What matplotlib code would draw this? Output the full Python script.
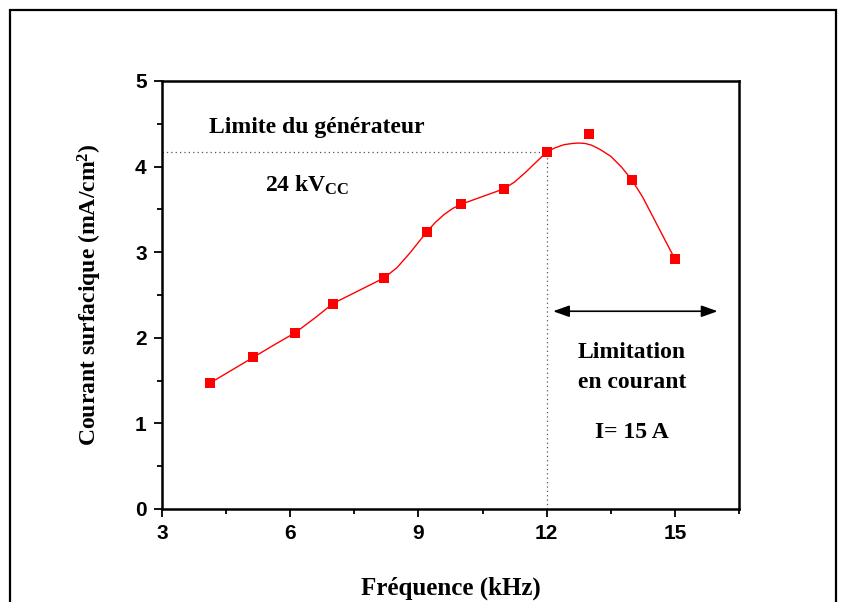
import matplotlib
matplotlib.use("Agg")
import matplotlib.pyplot as plt
from matplotlib.patches import Rectangle
from matplotlib.ticker import MultipleLocator

# Data
freq_khz = [4.12, 5.13, 6.12, 7.0, 8.2, 9.2, 10.0, 11.0, 12.0, 13.0, 14.0, 15.0]
current = [1.47, 1.77, 2.06, 2.40, 2.70, 3.24, 3.56, 3.74, 4.17, 4.38, 3.84, 2.92]

# Fitted curve
curve_x = [4.12, 5.13, 5.6, 6.12, 6.6, 7.0, 7.6, 8.2, 8.5, 8.8, 9.2, 9.4, 9.6, 9.8, 10.0,
           10.5, 11.0, 11.25, 11.5, 11.75, 12.0, 12.2, 12.4, 12.6, 12.75, 12.9, 13.05,
           13.25, 13.5, 13.75, 14.0, 14.25, 14.5, 14.75, 15.0]
curve_y = [1.47, 1.77, 1.91, 2.06, 2.24, 2.40, 2.55, 2.70, 2.82, 2.99, 3.24, 3.35, 3.44,
           3.51, 3.56, 3.65, 3.74, 3.82, 3.93, 4.05, 4.17, 4.22, 4.255, 4.27, 4.275, 4.27,
           4.25, 4.20, 4.12, 3.995, 3.84, 3.64, 3.40, 3.16, 2.92]

limit_level = 4.17
limit_freq = 12.0
arrow_y = 2.31
arrow_x = [12.15, 16.0]

serif = ['Liberation Serif', 'DejaVu Serif']
narrow = ['Liberation Sans Narrow', 'Liberation Sans', 'DejaVu Sans']

plt.rcParams['mathtext.fontset'] = 'custom'
plt.rcParams['mathtext.rm'] = 'Liberation Serif:bold'
plt.rcParams['mathtext.bf'] = 'Liberation Serif:bold'
plt.rcParams['mathtext.it'] = 'Liberation Serif:bold'

fig = plt.figure(figsize=(8.44, 6.02), dpi=100)
ax = fig.add_axes([0.1919, 0.1545, 0.6837, 0.7110])

# figure frame
fig.patches.append(Rectangle((10/844, -0.05), 826/844, 1.05 - 10/602, transform=fig.transFigure,
                             fill=False, edgecolor='black', linewidth=1.6, clip_on=False))

ax.plot(curve_x, curve_y, color='#ff0000', linewidth=1.0, zorder=3)
ax.plot(freq_khz, current, linestyle='none', marker='s', markersize=7, color='#ff0000',
        markeredgewidth=0, zorder=4)

ax.plot([3, limit_freq], [limit_level, limit_level], linestyle=(0, (1, 2.5)), color='#555555', linewidth=0.9)
ax.plot([limit_freq, limit_freq], [0, limit_level], linestyle=(0, (1, 2.5)), color='#555555', linewidth=0.9)

ax.annotate('', xy=(arrow_x[0], arrow_y), xytext=(arrow_x[1], arrow_y),
            arrowprops=dict(arrowstyle='<|-|>,head_length=0.7,head_width=0.25', color='black',
                            linewidth=1.2, mutation_scale=14, shrinkA=0, shrinkB=0))

ax.text(6.62, 4.46, 'Limite du générateur', family=serif, fontweight='bold', fontsize=17,
        ha='center', va='center')
ax.text(6.4, 3.78, r'24 kV$_{\mathrm{CC}}$', family=serif, fontweight='bold', fontsize=17,
        ha='center', va='center')
ax.text(14.0, 1.83, 'Limitation', family=serif, fontweight='bold', fontsize=17, ha='center', va='center')
ax.text(14.0, 1.48, 'en courant', family=serif, fontweight='bold', fontsize=17, ha='center', va='center')
ax.text(14.0, 0.89, 'I= 15 A', family=serif, fontweight='bold', fontsize=17, ha='center', va='center')

ax.set_xlim(3, 16.5)
ax.set_ylim(0, 5)
ax.xaxis.set_major_locator(MultipleLocator(3))
ax.xaxis.set_minor_locator(MultipleLocator(1.5))
ax.yaxis.set_major_locator(MultipleLocator(1))
ax.yaxis.set_minor_locator(MultipleLocator(0.5))

for s in ax.spines.values():
    s.set_linewidth(1.8)

ax.tick_params(which='both', direction='out', top=False, right=False, width=1.3)
ax.tick_params(which='major', length=6, pad=5)
ax.tick_params(which='minor', length=3.5)
for lab in ax.get_xticklabels() + ax.get_yticklabels():
    lab.set_family(narrow)
    lab.set_fontweight('bold')
    lab.set_fontsize(15)

ax.set_xlabel('Fréquence (kHz)', family=serif, fontweight='bold', fontsize=18, labelpad=24)
ax.set_ylabel(r'Courant surfacique (mA/cm$^{\mathrm{2}}$)', family=serif, fontweight='bold', fontsize=17, labelpad=22)

fig.savefig('out.png', dpi=100)
